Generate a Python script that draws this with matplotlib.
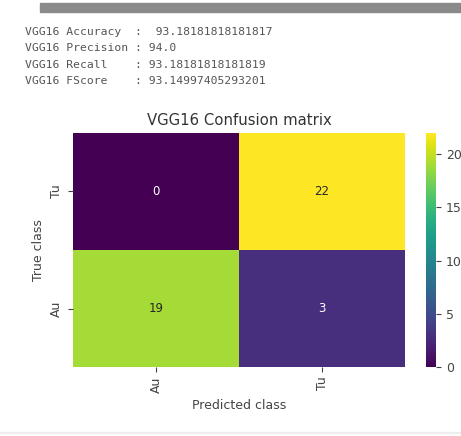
import numpy as np
import matplotlib
matplotlib.use("Agg")
import matplotlib.pyplot as plt
import seaborn as sns
from matplotlib.patches import Rectangle

classes = ["Au", "Tu"]
# rows = true class, cols = predicted class
cm = np.array([[19, 3],
               [0, 22]])

metric_names = ["VGG16 Accuracy  :  ", "VGG16 Precision : ", "VGG16 Recall    : ", "VGG16 FScore    : "]
metric_values = ["93.18181818181817", "94.0", "93.18181818181819", "93.14997405293201"]

fig = plt.figure(figsize=(4.61, 4.36), dpi=100)

# notebook scrollbar strip at the top
fig.patches.append(Rectangle((40 / 461, 1 - 12 / 436), 421 / 461, 9 / 436,
                             transform=fig.transFigure, color="#8a8a8a", zorder=0))
fig.patches.append(Rectangle((0, 1 - 433 / 436), 1, 1 / 436,
                             transform=fig.transFigure, color="#eeeeee", zorder=0))

# printed metrics
for i, (name, val) in enumerate(zip(metric_names, metric_values)):
    y = 1 - (32 + i * 16.4) / 436
    fig.text(25 / 461, y, name + val, family="DejaVu Sans Mono", fontsize=8.2,
             color="#555555", va="center", ha="left")

ax = fig.add_axes([73 / 461, (436 - 367) / 436, 332 / 461, 234 / 436])
cax = fig.add_axes([426 / 461, (436 - 367) / 436, 10 / 461, 234 / 436])

sns.heatmap(cm, annot=True, fmt="d", cmap="viridis", ax=ax, cbar_ax=cax,
            xticklabels=classes, yticklabels=classes, annot_kws={"fontsize": 8.5})
ax.set_ylim(0, 2)
ax.set_title("VGG16 Confusion matrix", fontsize=10.7, color="#333333")
ax.set_xlabel("Predicted class", fontsize=9, color="#444444")
ax.set_ylabel("True class", fontsize=9, color="#444444")
ax.tick_params(axis="x", rotation=90, labelsize=9, colors="#444444")
ax.tick_params(axis="y", rotation=90, labelsize=9, colors="#444444")
cax.tick_params(labelsize=9, colors="#444444")
cax.set_yticks([0, 5, 10, 15, 20])

fig.savefig("out.png", dpi=100)
